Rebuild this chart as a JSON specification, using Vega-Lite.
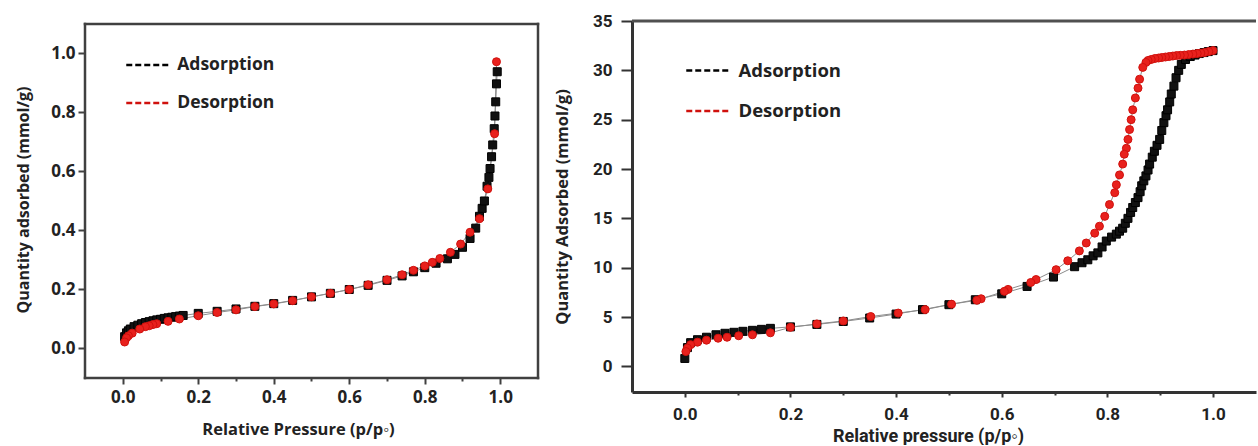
{
  "$schema": "https://vega.github.io/schema/vega-lite/v6.json",
  "background": "white",
  "padding": {"left": 15, "top": 12, "right": 0, "bottom": 0},
  "config": {"view": {"stroke": null}, "axis": {"grid": false, "labelOverlap": false, "labelFlush": false, "labelBound": false}},
  "datasets": {
    "iso1": [
      {"pressure": 0.005, "quantity": 0.04, "series": "Adsorption"},
      {"pressure": 0.01, "quantity": 0.053, "series": "Adsorption"},
      {"pressure": 0.015, "quantity": 0.06, "series": "Adsorption"},
      {"pressure": 0.02, "quantity": 0.066, "series": "Adsorption"},
      {"pressure": 0.03, "quantity": 0.074, "series": "Adsorption"},
      {"pressure": 0.04, "quantity": 0.079, "series": "Adsorption"},
      {"pressure": 0.05, "quantity": 0.084, "series": "Adsorption"},
      {"pressure": 0.06, "quantity": 0.088, "series": "Adsorption"},
      {"pressure": 0.07, "quantity": 0.091, "series": "Adsorption"},
      {"pressure": 0.08, "quantity": 0.094, "series": "Adsorption"},
      {"pressure": 0.09, "quantity": 0.097, "series": "Adsorption"},
      {"pressure": 0.1, "quantity": 0.099, "series": "Adsorption"},
      {"pressure": 0.11, "quantity": 0.102, "series": "Adsorption"},
      {"pressure": 0.12, "quantity": 0.104, "series": "Adsorption"},
      {"pressure": 0.13, "quantity": 0.106, "series": "Adsorption"},
      {"pressure": 0.14, "quantity": 0.108, "series": "Adsorption"},
      {"pressure": 0.15, "quantity": 0.11, "series": "Adsorption"},
      {"pressure": 0.16, "quantity": 0.112, "series": "Adsorption"},
      {"pressure": 0.2, "quantity": 0.119, "series": "Adsorption"},
      {"pressure": 0.25, "quantity": 0.126, "series": "Adsorption"},
      {"pressure": 0.3, "quantity": 0.134, "series": "Adsorption"},
      {"pressure": 0.35, "quantity": 0.143, "series": "Adsorption"},
      {"pressure": 0.4, "quantity": 0.152, "series": "Adsorption"},
      {"pressure": 0.45, "quantity": 0.163, "series": "Adsorption"},
      {"pressure": 0.5, "quantity": 0.175, "series": "Adsorption"},
      {"pressure": 0.55, "quantity": 0.187, "series": "Adsorption"},
      {"pressure": 0.6, "quantity": 0.2, "series": "Adsorption"},
      {"pressure": 0.65, "quantity": 0.214, "series": "Adsorption"},
      {"pressure": 0.7, "quantity": 0.231, "series": "Adsorption"},
      {"pressure": 0.74, "quantity": 0.246, "series": "Adsorption"},
      {"pressure": 0.77, "quantity": 0.26, "series": "Adsorption"},
      {"pressure": 0.8, "quantity": 0.274, "series": "Adsorption"},
      {"pressure": 0.83, "quantity": 0.289, "series": "Adsorption"},
      {"pressure": 0.86, "quantity": 0.304, "series": "Adsorption"},
      {"pressure": 0.88, "quantity": 0.319, "series": "Adsorption"},
      {"pressure": 0.9, "quantity": 0.343, "series": "Adsorption"},
      {"pressure": 0.92, "quantity": 0.373, "series": "Adsorption"},
      {"pressure": 0.935, "quantity": 0.408, "series": "Adsorption"},
      {"pressure": 0.945, "quantity": 0.448, "series": "Adsorption"},
      {"pressure": 0.952, "quantity": 0.475, "series": "Adsorption"},
      {"pressure": 0.958, "quantity": 0.5, "series": "Adsorption"},
      {"pressure": 0.965, "quantity": 0.55, "series": "Adsorption"},
      {"pressure": 0.97, "quantity": 0.58, "series": "Adsorption"},
      {"pressure": 0.973, "quantity": 0.61, "series": "Adsorption"},
      {"pressure": 0.977, "quantity": 0.65, "series": "Adsorption"},
      {"pressure": 0.98, "quantity": 0.69, "series": "Adsorption"},
      {"pressure": 0.984, "quantity": 0.745, "series": "Adsorption"},
      {"pressure": 0.986, "quantity": 0.788, "series": "Adsorption"},
      {"pressure": 0.988, "quantity": 0.836, "series": "Adsorption"},
      {"pressure": 0.99, "quantity": 0.897, "series": "Adsorption"},
      {"pressure": 0.992, "quantity": 0.938, "series": "Adsorption"},
      {"pressure": 0.99, "quantity": 0.972, "series": "Desorption"},
      {"pressure": 0.985, "quantity": 0.728, "series": "Desorption"},
      {"pressure": 0.967, "quantity": 0.541, "series": "Desorption"},
      {"pressure": 0.945, "quantity": 0.44, "series": "Desorption"},
      {"pressure": 0.92, "quantity": 0.394, "series": "Desorption"},
      {"pressure": 0.895, "quantity": 0.354, "series": "Desorption"},
      {"pressure": 0.868, "quantity": 0.326, "series": "Desorption"},
      {"pressure": 0.84, "quantity": 0.305, "series": "Desorption"},
      {"pressure": 0.82, "quantity": 0.292, "series": "Desorption"},
      {"pressure": 0.8, "quantity": 0.28, "series": "Desorption"},
      {"pressure": 0.77, "quantity": 0.265, "series": "Desorption"},
      {"pressure": 0.74, "quantity": 0.25, "series": "Desorption"},
      {"pressure": 0.7, "quantity": 0.233, "series": "Desorption"},
      {"pressure": 0.65, "quantity": 0.216, "series": "Desorption"},
      {"pressure": 0.6, "quantity": 0.2, "series": "Desorption"},
      {"pressure": 0.55, "quantity": 0.187, "series": "Desorption"},
      {"pressure": 0.5, "quantity": 0.175, "series": "Desorption"},
      {"pressure": 0.45, "quantity": 0.162, "series": "Desorption"},
      {"pressure": 0.4, "quantity": 0.151, "series": "Desorption"},
      {"pressure": 0.35, "quantity": 0.142, "series": "Desorption"},
      {"pressure": 0.3, "quantity": 0.131, "series": "Desorption"},
      {"pressure": 0.25, "quantity": 0.122, "series": "Desorption"},
      {"pressure": 0.2, "quantity": 0.111, "series": "Desorption"},
      {"pressure": 0.15, "quantity": 0.1, "series": "Desorption"},
      {"pressure": 0.12, "quantity": 0.092, "series": "Desorption"},
      {"pressure": 0.09, "quantity": 0.084, "series": "Desorption"},
      {"pressure": 0.08, "quantity": 0.081, "series": "Desorption"},
      {"pressure": 0.07, "quantity": 0.077, "series": "Desorption"},
      {"pressure": 0.06, "quantity": 0.074, "series": "Desorption"},
      {"pressure": 0.045, "quantity": 0.066, "series": "Desorption"},
      {"pressure": 0.025, "quantity": 0.052, "series": "Desorption"},
      {"pressure": 0.015, "quantity": 0.043, "series": "Desorption"},
      {"pressure": 0.01, "quantity": 0.036, "series": "Desorption"},
      {"pressure": 0.005, "quantity": 0.022, "series": "Desorption"}
    ],
    "iso2": [
      {"pressure": 0.0, "quantity": 0.8, "series": "Adsorption"},
      {"pressure": 0.005, "quantity": 1.9, "series": "Adsorption"},
      {"pressure": 0.011, "quantity": 2.4, "series": "Adsorption"},
      {"pressure": 0.024, "quantity": 2.7, "series": "Adsorption"},
      {"pressure": 0.041, "quantity": 2.95, "series": "Adsorption"},
      {"pressure": 0.059, "quantity": 3.2, "series": "Adsorption"},
      {"pressure": 0.076, "quantity": 3.35, "series": "Adsorption"},
      {"pressure": 0.093, "quantity": 3.45, "series": "Adsorption"},
      {"pressure": 0.11, "quantity": 3.55, "series": "Adsorption"},
      {"pressure": 0.128, "quantity": 3.65, "series": "Adsorption"},
      {"pressure": 0.145, "quantity": 3.75, "series": "Adsorption"},
      {"pressure": 0.162, "quantity": 3.85, "series": "Adsorption"},
      {"pressure": 0.2, "quantity": 4.0, "series": "Adsorption"},
      {"pressure": 0.25, "quantity": 4.25, "series": "Adsorption"},
      {"pressure": 0.3, "quantity": 4.55, "series": "Adsorption"},
      {"pressure": 0.35, "quantity": 4.9, "series": "Adsorption"},
      {"pressure": 0.4, "quantity": 5.3, "series": "Adsorption"},
      {"pressure": 0.45, "quantity": 5.75, "series": "Adsorption"},
      {"pressure": 0.5, "quantity": 6.25, "series": "Adsorption"},
      {"pressure": 0.55, "quantity": 6.75, "series": "Adsorption"},
      {"pressure": 0.6, "quantity": 7.35, "series": "Adsorption"},
      {"pressure": 0.648, "quantity": 8.1, "series": "Adsorption"},
      {"pressure": 0.698, "quantity": 9.05, "series": "Adsorption"},
      {"pressure": 0.738, "quantity": 10.1, "series": "Adsorption"},
      {"pressure": 0.752, "quantity": 10.5, "series": "Adsorption"},
      {"pressure": 0.763, "quantity": 10.8, "series": "Adsorption"},
      {"pressure": 0.773, "quantity": 11.2, "series": "Adsorption"},
      {"pressure": 0.782, "quantity": 11.5, "series": "Adsorption"},
      {"pressure": 0.79, "quantity": 12.1, "series": "Adsorption"},
      {"pressure": 0.798, "quantity": 12.7, "series": "Adsorption"},
      {"pressure": 0.808, "quantity": 13.1, "series": "Adsorption"},
      {"pressure": 0.817, "quantity": 13.4, "series": "Adsorption"},
      {"pressure": 0.823, "quantity": 13.7, "series": "Adsorption"},
      {"pressure": 0.829, "quantity": 14.0, "series": "Adsorption"},
      {"pressure": 0.834, "quantity": 14.5, "series": "Adsorption"},
      {"pressure": 0.839, "quantity": 15.0, "series": "Adsorption"},
      {"pressure": 0.844, "quantity": 15.6, "series": "Adsorption"},
      {"pressure": 0.848, "quantity": 16.1, "series": "Adsorption"},
      {"pressure": 0.853, "quantity": 16.6, "series": "Adsorption"},
      {"pressure": 0.858, "quantity": 17.1, "series": "Adsorption"},
      {"pressure": 0.862, "quantity": 17.7, "series": "Adsorption"},
      {"pressure": 0.865, "quantity": 18.3, "series": "Adsorption"},
      {"pressure": 0.869, "quantity": 18.8, "series": "Adsorption"},
      {"pressure": 0.873, "quantity": 19.3, "series": "Adsorption"},
      {"pressure": 0.877, "quantity": 19.9, "series": "Adsorption"},
      {"pressure": 0.88, "quantity": 20.5, "series": "Adsorption"},
      {"pressure": 0.885, "quantity": 21.2, "series": "Adsorption"},
      {"pressure": 0.889, "quantity": 21.8, "series": "Adsorption"},
      {"pressure": 0.894, "quantity": 22.4, "series": "Adsorption"},
      {"pressure": 0.899, "quantity": 23.0, "series": "Adsorption"},
      {"pressure": 0.903, "quantity": 23.9, "series": "Adsorption"},
      {"pressure": 0.907, "quantity": 24.7, "series": "Adsorption"},
      {"pressure": 0.911, "quantity": 25.4, "series": "Adsorption"},
      {"pressure": 0.914, "quantity": 26.0, "series": "Adsorption"},
      {"pressure": 0.918, "quantity": 26.8, "series": "Adsorption"},
      {"pressure": 0.921, "quantity": 27.6, "series": "Adsorption"},
      {"pressure": 0.926, "quantity": 28.4, "series": "Adsorption"},
      {"pressure": 0.93, "quantity": 29.25, "series": "Adsorption"},
      {"pressure": 0.935, "quantity": 30.0, "series": "Adsorption"},
      {"pressure": 0.94, "quantity": 30.6, "series": "Adsorption"},
      {"pressure": 0.948, "quantity": 31.1, "series": "Adsorption"},
      {"pressure": 0.957, "quantity": 31.4, "series": "Adsorption"},
      {"pressure": 0.966, "quantity": 31.55, "series": "Adsorption"},
      {"pressure": 0.974, "quantity": 31.7, "series": "Adsorption"},
      {"pressure": 0.983, "quantity": 31.8, "series": "Adsorption"},
      {"pressure": 0.991, "quantity": 31.9, "series": "Adsorption"},
      {"pressure": 1.0, "quantity": 32.0, "series": "Adsorption"},
      {"pressure": 1.0, "quantity": 32.0, "series": "Desorption"},
      {"pressure": 0.992, "quantity": 31.9, "series": "Desorption"},
      {"pressure": 0.984, "quantity": 31.8, "series": "Desorption"},
      {"pressure": 0.977, "quantity": 31.75, "series": "Desorption"},
      {"pressure": 0.97, "quantity": 31.7, "series": "Desorption"},
      {"pressure": 0.962, "quantity": 31.65, "series": "Desorption"},
      {"pressure": 0.954, "quantity": 31.6, "series": "Desorption"},
      {"pressure": 0.946, "quantity": 31.55, "series": "Desorption"},
      {"pressure": 0.938, "quantity": 31.52, "series": "Desorption"},
      {"pressure": 0.931, "quantity": 31.5, "series": "Desorption"},
      {"pressure": 0.924, "quantity": 31.45, "series": "Desorption"},
      {"pressure": 0.917, "quantity": 31.4, "series": "Desorption"},
      {"pressure": 0.91, "quantity": 31.35, "series": "Desorption"},
      {"pressure": 0.903, "quantity": 31.3, "series": "Desorption"},
      {"pressure": 0.897, "quantity": 31.25, "series": "Desorption"},
      {"pressure": 0.89, "quantity": 31.2, "series": "Desorption"},
      {"pressure": 0.883, "quantity": 31.1, "series": "Desorption"},
      {"pressure": 0.877, "quantity": 31.0, "series": "Desorption"},
      {"pressure": 0.873, "quantity": 30.8, "series": "Desorption"},
      {"pressure": 0.867, "quantity": 30.3, "series": "Desorption"},
      {"pressure": 0.861, "quantity": 29.1, "series": "Desorption"},
      {"pressure": 0.858, "quantity": 28.2, "series": "Desorption"},
      {"pressure": 0.853, "quantity": 27.2, "series": "Desorption"},
      {"pressure": 0.848, "quantity": 26.0, "series": "Desorption"},
      {"pressure": 0.845, "quantity": 25.0, "series": "Desorption"},
      {"pressure": 0.842, "quantity": 24.0, "series": "Desorption"},
      {"pressure": 0.839, "quantity": 23.0, "series": "Desorption"},
      {"pressure": 0.836, "quantity": 22.1, "series": "Desorption"},
      {"pressure": 0.832, "quantity": 21.5, "series": "Desorption"},
      {"pressure": 0.829, "quantity": 20.5, "series": "Desorption"},
      {"pressure": 0.823, "quantity": 19.4, "series": "Desorption"},
      {"pressure": 0.817, "quantity": 18.4, "series": "Desorption"},
      {"pressure": 0.814, "quantity": 17.6, "series": "Desorption"},
      {"pressure": 0.804, "quantity": 16.4, "series": "Desorption"},
      {"pressure": 0.795, "quantity": 15.2, "series": "Desorption"},
      {"pressure": 0.785, "quantity": 14.2, "series": "Desorption"},
      {"pressure": 0.776, "quantity": 13.5, "series": "Desorption"},
      {"pressure": 0.76, "quantity": 12.5, "series": "Desorption"},
      {"pressure": 0.747, "quantity": 11.7, "series": "Desorption"},
      {"pressure": 0.725, "quantity": 10.7, "series": "Desorption"},
      {"pressure": 0.703, "quantity": 9.8, "series": "Desorption"},
      {"pressure": 0.665, "quantity": 8.8, "series": "Desorption"},
      {"pressure": 0.655, "quantity": 8.5, "series": "Desorption"},
      {"pressure": 0.612, "quantity": 7.8, "series": "Desorption"},
      {"pressure": 0.605, "quantity": 7.6, "series": "Desorption"},
      {"pressure": 0.561, "quantity": 6.85, "series": "Desorption"},
      {"pressure": 0.553, "quantity": 6.7, "series": "Desorption"},
      {"pressure": 0.505, "quantity": 6.3, "series": "Desorption"},
      {"pressure": 0.455, "quantity": 5.75, "series": "Desorption"},
      {"pressure": 0.404, "quantity": 5.4, "series": "Desorption"},
      {"pressure": 0.352, "quantity": 5.05, "series": "Desorption"},
      {"pressure": 0.3, "quantity": 4.6, "series": "Desorption"},
      {"pressure": 0.25, "quantity": 4.3, "series": "Desorption"},
      {"pressure": 0.2, "quantity": 3.95, "series": "Desorption"},
      {"pressure": 0.162, "quantity": 3.4, "series": "Desorption"},
      {"pressure": 0.128, "quantity": 3.2, "series": "Desorption"},
      {"pressure": 0.102, "quantity": 3.1, "series": "Desorption"},
      {"pressure": 0.08, "quantity": 2.95, "series": "Desorption"},
      {"pressure": 0.063, "quantity": 2.85, "series": "Desorption"},
      {"pressure": 0.041, "quantity": 2.65, "series": "Desorption"},
      {"pressure": 0.024, "quantity": 2.45, "series": "Desorption"},
      {"pressure": 0.011, "quantity": 2.2, "series": "Desorption"},
      {"pressure": 0.005, "quantity": 1.85, "series": "Desorption"},
      {"pressure": 0.002, "quantity": 1.5, "series": "Desorption"}
    ]
  },
  "bounds": "flush",
  "spacing": 94,
  "resolve": {
    "scale": {"fill": "independent", "stroke": "independent"},
    "legend": {"fill": "independent", "stroke": "independent"}
  },
  "hconcat": [
    {
      "width": 453,
      "height": 357,
      "data": {"name": "iso1"},
      "layer": [
        {
          "mark": {"type": "line", "stroke": "#8c8c8c", "strokeWidth": 1},
          "encoding": {
            "x": {"field": "pressure", "type": "quantitative"},
            "y": {"field": "quantity", "type": "quantitative"},
            "detail": {"field": "series"}
          }
        },
        {
          "transform": [{"filter": "datum.series == 'Adsorption'"}],
          "mark": {"type": "point", "filled": true, "shape": "square", "size": 64, "opacity": 1, "strokeWidth": 1},
          "encoding": {
            "x": {
              "field": "pressure", "type": "quantitative",
              "scale": {"domain": [-0.1, 1.1], "nice": false, "zero": false},
              "axis": {
                "title": "Relative Pressure (p/p◦)",
                "values": [0, 0.1, 0.2, 0.3, 0.4, 0.5, 0.6, 0.7, 0.8, 0.9, 1],
                "labelExpr": "round(datum.value*10) % 2 == 0 ? format(datum.value, '.1f') : ''",
                "domain": false,
                "tickColor": "#404040", "tickWidth": 2,
                "tickSize": {"condition": {"test": "round(datum.value*10) % 2 == 0", "value": 6}, "value": 3},
                "labelFont": "Open Sans", "labelFontWeight": "bold", "labelFontSize": 17, "labelColor": "#222222", "labelPadding": 5,
                "titleFont": "Open Sans", "titleFontWeight": "bold", "titleFontSize": 16.5, "titleColor": "#222222", "titlePadding": 16, "titleX": 213
              }
            },
            "y": {
              "field": "quantity", "type": "quantitative",
              "scale": {"domain": [-0.1, 1.11], "nice": false, "zero": false},
              "axis": {
                "title": "Quantity adsorbed (mmol/g)",
                "values": [0, 0.1, 0.2, 0.3, 0.4, 0.5, 0.6, 0.7, 0.8, 0.9, 1],
                "labelExpr": "round(datum.value*10) % 2 == 0 ? format(datum.value, '.1f') : ''",
                "domain": false,
                "tickColor": "#404040", "tickWidth": 2,
                "tickSize": {"condition": {"test": "round(datum.value*10) % 2 == 0", "value": 7}, "value": 3},
                "labelFont": "Open Sans", "labelFontWeight": "bold", "labelFontSize": 17, "labelColor": "#222222", "labelPadding": 3,
                "titleFont": "Open Sans", "titleFontWeight": "bold", "titleFontSize": 16, "titleColor": "#222222", "titlePadding": 19
              }
            },
            "fill": {
              "field": "series", "type": "nominal",
              "scale": {"domain": ["Adsorption", "Desorption"], "range": ["#111111", "#e8211d"]},
              "legend": {"orient": "none", "legendX": 50.75, "legendY": 32, "title": null, "padding": 0,
                "symbolType": "M-2,0H2", "symbolSize": 462, "symbolStrokeWidth": 2.5, "symbolDash": [6, 3],
                "labelFont": "Open Sans", "labelFontWeight": "bold", "labelFontSize": 17.5, "labelColor": "#222222",
                "labelOffset": 17.5, "rowPadding": 17}
            },
            "stroke": {
              "field": "series", "type": "nominal",
              "scale": {"domain": ["Adsorption", "Desorption"], "range": ["#000000", "#d0110d"]},
              "legend": {"orient": "none", "legendX": 50.75, "legendY": 32, "title": null, "padding": 0,
                "symbolType": "M-2,0H2", "symbolSize": 462, "symbolStrokeWidth": 2.5, "symbolDash": [6, 3],
                "labelFont": "Open Sans", "labelFontWeight": "bold", "labelFontSize": 17.5, "labelColor": "#222222",
                "labelOffset": 17.5, "rowPadding": 17}
            }
          }
        },
        {
          "transform": [{"filter": "datum.series == 'Desorption'"}],
          "mark": {"type": "point", "filled": true, "shape": "circle", "size": 64, "opacity": 1, "strokeWidth": 1},
          "encoding": {
            "x": {"field": "pressure", "type": "quantitative"},
            "y": {"field": "quantity", "type": "quantitative"},
            "fill": {"field": "series", "type": "nominal"},
            "stroke": {"field": "series", "type": "nominal"}
          }
        },
        {
          "data": {"values": [{}]},
          "mark": {"type": "rule", "color": "#404040", "strokeWidth": 2.5, "strokeCap": "square"},
          "encoding": {
            "x": {"datum": -0.1, "type": "quantitative"},
            "x2": {"datum": 1.1},
            "y": {"datum": 1.1, "type": "quantitative"}
          }
        },
        {
          "data": {"values": [{}]},
          "mark": {"type": "rule", "color": "#404040", "strokeWidth": 2.5, "strokeCap": "square"},
          "encoding": {
            "x": {"datum": -0.1, "type": "quantitative"},
            "x2": {"datum": 1.1},
            "y": {"datum": -0.1, "type": "quantitative"}
          }
        },
        {
          "data": {"values": [{}]},
          "mark": {"type": "rule", "color": "#404040", "strokeWidth": 2.5, "strokeCap": "square"},
          "encoding": {
            "x": {"datum": -0.1, "type": "quantitative"},
            "y": {"datum": -0.1, "type": "quantitative"},
            "y2": {"datum": 1.1}
          }
        },
        {
          "data": {"values": [{}]},
          "mark": {"type": "rule", "color": "#404040", "strokeWidth": 2.5, "strokeCap": "square"},
          "encoding": {
            "x": {"datum": 1.1, "type": "quantitative"},
            "y": {"datum": -0.1, "type": "quantitative"},
            "y2": {"datum": 1.1}
          }
        }
      ]
    },
    {
      "width": 624,
      "height": 371,
      "data": {"name": "iso2"},
      "layer": [
        {
          "mark": {"type": "line", "stroke": "#8c8c8c", "strokeWidth": 1},
          "encoding": {
            "x": {"field": "pressure", "type": "quantitative"},
            "y": {"field": "quantity", "type": "quantitative"},
            "detail": {"field": "series"}
          }
        },
        {
          "transform": [{"filter": "datum.series == 'Adsorption'"}],
          "mark": {"type": "point", "filled": true, "shape": "square", "size": 64, "opacity": 1, "strokeWidth": 1},
          "encoding": {
            "x": {
              "field": "pressure", "type": "quantitative",
              "scale": {"domain": [-0.1, 1.0814], "nice": false, "zero": false},
              "axis": {
                "title": "Relative pressure (p/p◦)",
                "values": [0, 0.1, 0.2, 0.3, 0.4, 0.5, 0.6, 0.7, 0.8, 0.9, 1],
                "labelExpr": "round(datum.value*10) % 2 == 0 ? format(datum.value, '.1f') : ''",
                "domainColor": "#333333", "domainWidth": 3,
                "tickColor": "#333333", "tickWidth": 2,
                "tickSize": {"condition": {"test": "round(datum.value*10) % 2 == 0", "value": 5}, "value": 3},
                "labelFont": "Liberation Sans Narrow, Roboto", "labelFontWeight": "bold", "labelFontSize": 17, "labelColor": "#222222", "labelPadding": 9,
                "titleFont": "Liberation Sans Narrow, Roboto", "titleFontWeight": "bold", "titleFontSize": 18, "titleColor": "#222222", "titlePadding": 5, "titleX": 296
              }
            },
            "y": {
              "field": "quantity", "type": "quantitative",
              "scale": {"domain": [-2.6, 35], "nice": false, "zero": false},
              "axis": {
                "title": "Quantity Adsorbed (mmol/g)",
                "values": [0, 2.5, 5, 7.5, 10, 12.5, 15, 17.5, 20, 22.5, 25, 27.5, 30, 32.5, 35],
                "labelExpr": "round(datum.value/2.5) % 2 == 0 ? format(datum.value, 'd') : ''",
                "domainColor": "#333333", "domainWidth": 3,
                "tickColor": "#333333", "tickWidth": 2,
                "tickSize": {"condition": {"test": "round(datum.value/2.5) % 2 == 0", "value": 11}, "value": 6},
                "labelFont": "Liberation Sans Narrow, Roboto", "labelFontWeight": "bold", "labelFontSize": 17, "labelColor": "#222222", "labelPadding": 9,
                "titleFont": "Open Sans", "titleFontWeight": "bold", "titleFontSize": 16.5, "titleColor": "#222222", "titlePadding": 22
              }
            },
            "fill": {
              "field": "series", "type": "nominal",
              "scale": {"domain": ["Adsorption", "Desorption"], "range": ["#111111", "#e8211d"]},
              "legend": {"orient": "none", "legendX": 63.75, "legendY": 37.5, "title": null, "padding": 0,
                "symbolType": "M-2,0H2", "symbolSize": 462, "symbolStrokeWidth": 2.5, "symbolDash": [6, 3],
                "labelFont": "Open Sans", "labelFontWeight": "bold", "labelFontSize": 18.5, "labelColor": "#222222",
                "labelOffset": 18.75, "rowPadding": 18.5}
            },
            "stroke": {
              "field": "series", "type": "nominal",
              "scale": {"domain": ["Adsorption", "Desorption"], "range": ["#000000", "#d0110d"]},
              "legend": {"orient": "none", "legendX": 63.75, "legendY": 37.5, "title": null, "padding": 0,
                "symbolType": "M-2,0H2", "symbolSize": 462, "symbolStrokeWidth": 2.5, "symbolDash": [6, 3],
                "labelFont": "Open Sans", "labelFontWeight": "bold", "labelFontSize": 18.5, "labelColor": "#222222",
                "labelOffset": 18.75, "rowPadding": 18.5}
            }
          }
        },
        {
          "transform": [{"filter": "datum.series == 'Desorption'"}],
          "mark": {"type": "point", "filled": true, "shape": "circle", "size": 64, "opacity": 1, "strokeWidth": 1},
          "encoding": {
            "x": {"field": "pressure", "type": "quantitative"},
            "y": {"field": "quantity", "type": "quantitative"},
            "fill": {"field": "series", "type": "nominal"},
            "stroke": {"field": "series", "type": "nominal"}
          }
        },
        {
          "data": {"values": [{}]},
          "mark": {"type": "rule", "color": "#505050", "strokeWidth": 3},
          "encoding": {
            "y": {"datum": 35, "type": "quantitative"}
          }
        }
      ]
    }
  ]
}
